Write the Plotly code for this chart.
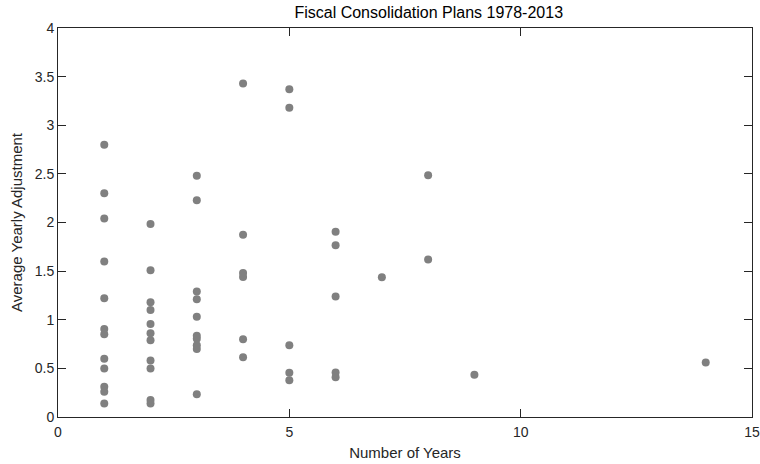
import plotly.graph_objects as go

# Data: number of years of plan vs average yearly adjustment
years = [1]*12 + [2]*11 + [3]*10 + [4]*6 + [5]*5 + [6]*5 + [7] + [8]*2 + [9] + [14]
adjustment = [
    # 1 year
    2.80, 2.30, 2.04, 1.60, 1.22, 0.905, 0.85, 0.60, 0.50, 0.31, 0.26, 0.14,
    # 2 years
    1.985, 1.51, 1.18, 1.10, 0.956, 0.86, 0.79, 0.58, 0.50, 0.175, 0.14,
    # 3 years
    2.48, 2.23, 1.29, 1.21, 1.03, 0.836, 0.805, 0.737, 0.70, 0.233,
    # 4 years
    3.43, 1.875, 1.48, 1.44, 0.80, 0.615,
    # 5 years
    3.37, 3.18, 0.737, 0.456, 0.377,
    # 6 years
    1.905, 1.765, 1.24, 0.458, 0.41,
    # 7 years
    1.436,
    # 8 years
    2.485, 1.62,
    # 9 years
    0.435,
    # 14 years
    0.56,
]

x_ticks = [0, 5, 10, 15]
y_ticks = [0, 0.5, 1, 1.5, 2, 2.5, 3, 3.5, 4]
y_tick_labels = ["0", "0.5", "1", "1.5", "2", "2.5", "3", "3.5", "4"]

FONT = "Liberation Sans, Arial, Helvetica, sans-serif"
AXIS_COLOR = "#262626"

fig = go.Figure(
    go.Scatter(
        x=years,
        y=adjustment,
        mode="markers",
        marker=dict(color="#808080", size=8, line=dict(width=0)),
        showlegend=False,
        cliponaxis=False,
    )
)

axis_common = dict(
    showgrid=False,
    zeroline=False,
    showline=True,
    linecolor=AXIS_COLOR,
    linewidth=1,
    mirror="ticks",
    ticks="inside",
    ticklen=8,
    tickwidth=1,
    tickcolor=AXIS_COLOR,
    tickfont=dict(family=FONT, size=14, color=AXIS_COLOR),
    automargin=False,
    ticklabeloverflow="allow",
)

fig.update_xaxes(
    range=[0, 15],
    tickvals=x_ticks,
    ticktext=[str(v) for v in x_ticks],
    ticklabelstandoff=2,
    title=dict(text="Number of Years", font=dict(family=FONT, size=15, color=AXIS_COLOR), standoff=8),
    **axis_common,
)
fig.update_yaxes(
    range=[0, 4],
    tickvals=y_ticks,
    ticktext=y_tick_labels,
    title=dict(text="Average Yearly Adjustment", font=dict(family=FONT, size=15, color=AXIS_COLOR), standoff=8),
    **axis_common,
)

fig.update_layout(
    width=760,
    height=464,
    margin=dict(l=58, r=8, t=28, b=47),
    paper_bgcolor="white",
    plot_bgcolor="white",
    title=dict(
        text="Fiscal Consolidation Plans 1978-2013",
        x=406 / 760,
        xanchor="center",
        xref="paper",
        y=1 - 12 / 464,
        yanchor="middle",
        font=dict(family=FONT, size=16, color="#000000"),
    ),
)

# Remove the default 8px body margin of the page so the figure sits at (0, 0).
fig.write_html(
    "out.html",
    config={"displayModeBar": False},
    post_script="document.body.style.margin='0';document.body.style.overflow='hidden';",
)
